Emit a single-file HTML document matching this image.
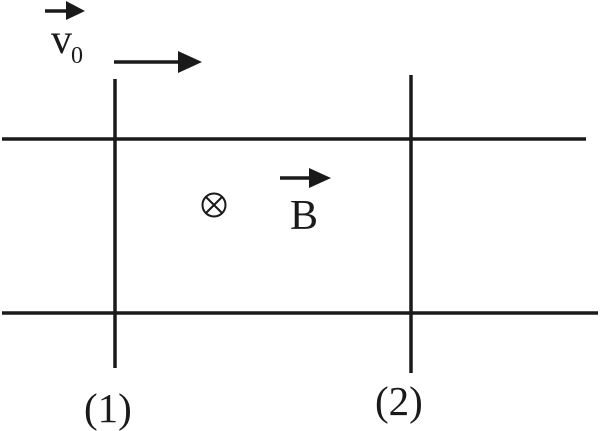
<!DOCTYPE html>
<html><head><style>html,body{margin:0;padding:0;background:#fff;}svg{display:block}</style></head>
<body>
<svg width="600" height="431" viewBox="0 0 600 431" xmlns="http://www.w3.org/2000/svg">
<g stroke="#1a1a1a" stroke-width="3.5" fill="none">
<line x1="2" y1="139" x2="586" y2="139"/>
<line x1="2" y1="313" x2="598" y2="313"/>
<line x1="115" y1="79" x2="115" y2="368"/>
<line x1="411" y1="75" x2="411" y2="373"/>
<line x1="45" y1="11" x2="70" y2="11"/>
<line x1="114" y1="62" x2="180" y2="62"/>
<line x1="280" y1="178" x2="312" y2="178"/>
</g>
<g fill="#1a1a1a">
<polygon points="66,1 85,11 66,20"/>
<polygon points="178,51 202,62 178,73"/>
<polygon points="309,168 331,178 309,188"/>
</g>
<g stroke="#1a1a1a" stroke-width="2" fill="none">
<circle cx="214" cy="205" r="11.5"/>
<line x1="206" y1="197" x2="222" y2="213"/>
<line x1="222" y1="197" x2="206" y2="213"/>
</g>
<g font-family="'Liberation Serif',serif" fill="#1a1a1a">
<text x="51" y="53" font-size="42">v</text>
<text x="71" y="63" font-size="24">0</text>
<text x="290" y="229" font-size="42">B</text>
<text x="84" y="422" font-size="41">(1)</text>
<text x="375" y="415" font-size="41">(2)</text>
</g>
</svg>
</body></html>
